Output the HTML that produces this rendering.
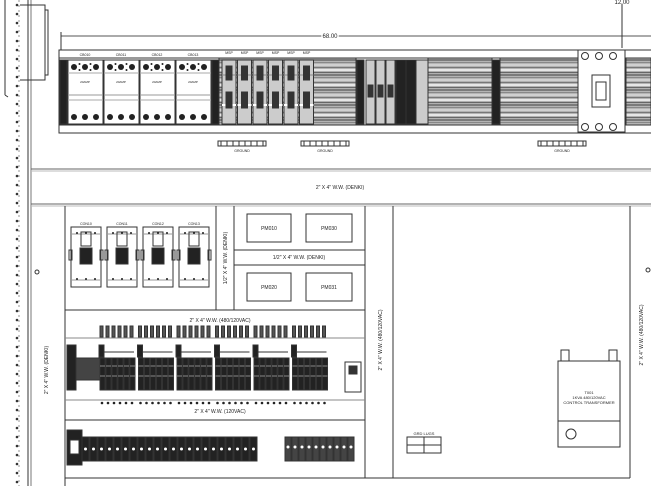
<!DOCTYPE html>
<html><head><meta charset="utf-8"><style>
html,body{margin:0;padding:0;background:#fff;width:651px;height:486px;overflow:hidden}
svg{display:block;font-family:"Liberation Sans",sans-serif}
</style></head><body>
<svg id="s" width="651" height="486" viewBox="0 0 651 486" xmlns="http://www.w3.org/2000/svg">
<g fill="none" stroke="#333" stroke-width="1">
<line x1="28" y1="0" x2="28" y2="486"/><line x1="31" y1="0" x2="31" y2="486" stroke="#777"/>
<line x1="19" y1="0" x2="19" y2="486" stroke="#999" stroke-dasharray="2,3"/>
<path d="M5 0 V95 M5 95 L8 97 M20 5 H45 V80 H20 M45 10 H48 V75 H45"/>
<line x1="61" y1="36" x2="651" y2="36" stroke="#555"/>
<line x1="61" y1="32" x2="61" y2="50"/>
<line x1="622" y1="4" x2="622" y2="48"/>
<rect x="59" y="50" width="600" height="83"/>
<line x1="59" y1="58" x2="651" y2="58"/><line x1="59" y1="125" x2="651" y2="125"/>
<line x1="31" y1="169" x2="651" y2="169" stroke="#666"/>
<line x1="31" y1="171" x2="651" y2="171" stroke="#bbb"/>
<line x1="31" y1="204" x2="651" y2="204" stroke="#666"/>
<line x1="31" y1="206" x2="651" y2="206" stroke="#bbb"/>
<line x1="65" y1="206" x2="65" y2="486"/>
<line x1="216" y1="206" x2="216" y2="310"/><line x1="234" y1="206" x2="234" y2="310"/>
<line x1="365" y1="206" x2="365" y2="478"/><line x1="393" y1="206" x2="393" y2="478"/>
<line x1="630" y1="206" x2="630" y2="478"/>
<line x1="65" y1="310" x2="365" y2="310"/>
<line x1="234" y1="250" x2="365" y2="250"/><line x1="234" y1="265" x2="365" y2="265"/>
<line x1="65" y1="338" x2="365" y2="338" stroke="#888"/><line x1="65" y1="400" x2="365" y2="400" stroke="#888"/>
<line x1="65" y1="420" x2="365" y2="420"/>
<line x1="65" y1="478" x2="630" y2="478"/>
<rect x="247" y="214" width="44" height="28"/><rect x="306" y="214" width="46" height="28"/>
<rect x="247" y="273" width="44" height="28"/><rect x="306" y="273" width="46" height="28"/>
<rect x="558" y="361" width="62" height="86"/>
<line x1="558" y1="421" x2="620" y2="421"/>
<rect x="561" y="350" width="8" height="11"/><rect x="609" y="350" width="8" height="11"/>
<circle cx="571" cy="434" r="5"/>
<rect x="407" y="437" width="34" height="16"/><line x1="424" y1="437" x2="424" y2="453"/><line x1="407" y1="445" x2="441" y2="445"/>
<circle cx="37" cy="272" r="2"/><circle cx="648" cy="270" r="2"/>
</g>
<g id="dyn"></g>
<g font-size="5" fill="#222" text-anchor="middle">
<text x="330" y="38" font-size="6" style="paint-order:stroke" stroke="#fff" stroke-width="3">68.00</text>
<text x="622" y="4" font-size="6">12.00</text>
<text x="340" y="189">2" X 4" W.W. (DENKI)</text>
<text x="269" y="230">PM010</text><text x="329" y="230">PM030</text>
<text x="269" y="289">PM020</text><text x="329" y="289">PM031</text>
<text x="299" y="259">1/2" X 4" W.W. (DENKI)</text>
<text x="220" y="322">2" X 4" W.W. (480/120VAC)</text>
<text x="220" y="413">2" X 4" W.W. (120VAC)</text>
<text x="424" y="435" font-size="4">GRD LUGS</text>
<text x="589" y="394" font-size="4">T001</text>
<text x="589" y="399" font-size="4">1KVA 480/120VAC</text>
<text x="589" y="404" font-size="4">CONTROL TRANSFORMER</text>
<text transform="translate(48,370) rotate(-90)">2" X 4" W.W. (DENKI)</text>
<text transform="translate(227,258) rotate(-90)">1/2" X 4" W.W. (DENKI)</text>
<text transform="translate(382,340) rotate(-90)">2" X 4" W.W. (480/120VAC)</text>
<text transform="translate(643,335) rotate(-90)">2" X 4" W.W. (480/120VAC)</text>
</g>
</svg>
<script>
var g=document.getElementById('dyn'),h='';
function R(x,y,w,hh,f,s){h+='<rect x="'+x+'" y="'+y+'" width="'+w+'" height="'+hh+'" fill="'+(f||'none')+'" stroke="'+(s||'#333')+'" stroke-width="1"/>';}
function C(x,y,r,f){h+='<circle cx="'+x+'" cy="'+y+'" r="'+r+'" fill="'+(f||'#222')+'"/>';}
function L(a,b,c,d,s,w){h+='<line x1="'+a+'" y1="'+b+'" x2="'+c+'" y2="'+d+'" stroke="'+(s||'#333')+'" stroke-width="'+(w||1)+'"/>';}
function T(x,y,t,fs){h+='<text x="'+x+'" y="'+y+'" font-size="'+(fs||3.5)+'" text-anchor="middle" fill="#222">'+t+'</text>';}
function duct(x1,x2){R(x1,58,x2-x1,67,'#bbb');var c=['#555','#888','#ddd','#777','#fff','#666'];var i=0;for(var y=60;y<124;y+=2.5){L(x1,y,x2,y,c[i++%6],1.3);}R(x1,58,x2-x1,67);}
duct(219,356);duct(428,492);duct(500,578);duct(626,651);
[[60,67],[212,219],[357,364],[492,500]].forEach(function(a){R(a[0],60,a[1]-a[0],64,'#222');});
for(var i=0;i<4;i++){var x=68+i*36;R(x,60,35,64,'#fff');T(x+17,56,'CB0'+(10+i));L(x,73,x+35,73,'#aaa');L(x,100,x+35,100,'#aaa');for(var k=0;k<3;k++){C(x+6+k*11,67,3);C(x+6+k*11,117,3);}C(x+11.5,64,1);C(x+11.5,70,1);C(x+22.5,64,1);C(x+22.5,70,1);T(x+17,83,'20AMP',3);L(x,95,x+35,95,'#999');}
for(i=0;i<6;i++){var x=222+i*15.5;R(x,60,14,64,'#ccc');L(x,75,x+14,75,'#888');L(x,105,x+14,105,'#fff',2);R(x+4,66,6,14,'#333');R(x+4,92,6,16,'#333');T(x+7,54,'MSP');}
for(i=0;i<3;i++){var x=366+i*10;R(x,60,9,64,'#ccc');R(x+2,85,5,12,'#333');}
R(396,60,10,64,'#222');R(406,60,10,64,'#222');R(416,60,12,64,'#ccc');
R(578,50,47,82,'#fff');R(592,75,18,32,'#fff');R(596,82,10,18,'#fff');
for(k=0;k<3;k++){h+='<circle cx="'+(585+k*14)+'" cy="56" r="3.5" fill="none" stroke="#333"/>';h+='<circle cx="'+(585+k*14)+'" cy="127" r="3.5" fill="none" stroke="#333"/>';}
[[218,140],[301,140],[538,140]].forEach(function(a){R(a[0],141,48,5);for(var k=0;k<8;k++)L(a[0]+3+k*6,141,a[0]+3+k*6,146);T(a[0]+24,152,'GROUND');});
for(i=0;i<4;i++){var x=71+i*36;R(x,227,30,60,'#fff');T(x+15,225,'CON'+(10+i));L(x,234,x+30,234,'#999');L(x,280,x+30,280,'#999');R(x+10,232,10,14);R(x+9,248,12,16,'#222');R(x-2,250,3,10);R(x+29,250,3,10);for(k=0;k<3;k++){C(x+6+k*9,233,1);C(x+6+k*9,279,1);}}
R(67,345,9,45,'#222');R(76,358,24,22,'#444');
for(var gI=0;gI<6;gI++){var bx=99+gI*38.5;R(bx,345,5,12,'#222');L(bx+5,352,bx+35,352);for(k=0;k<6;k++){var tx=bx+1+k*6;R(tx,326,3,11,'#555');R(tx,358,5,32,'#222');L(tx,366,tx+5,366,'#888');L(tx,376,tx+5,376,'#888');C(tx+2,403,1.3);}}
R(345,362,16,30,'#fff');R(349,366,8,8,'#333');
R(67,430,15,35,'#222');R(70,440,9,14,'#fff');
for(i=0;i<22;i++){var tx=82+i*8;R(tx,437,7,24,'#222');h+='<circle cx="'+(tx+3.5)+'" cy="449" r="1.5" fill="#fff"/>';}
for(i=0;i<10;i++){var tx=285+i*7;R(tx,437,6,24,'#444');h+='<circle cx="'+(tx+3)+'" cy="447" r="1.5" fill="#fff"/>';}
for(var y=5;y<486;y+=9)C(17,y,1.3,'#333');
g.innerHTML=h;
</script>
</body></html>
